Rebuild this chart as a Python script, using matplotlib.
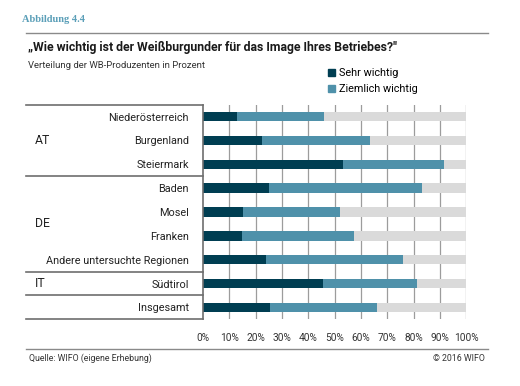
import matplotlib.pyplot as plt
from matplotlib.patches import Patch

regions = ["Niederösterreich", "Burgenland", "Steiermark", "Baden", "Mosel",
           "Franken", "Andere untersuchte Regionen", "Südtirol", "Insgesamt"]
sehr_wichtig = [13.0, 22.3, 53.2, 25.0, 15.2, 14.9, 23.8, 45.7, 25.6]
ziemlich_wichtig = [33.1, 41.2, 38.3, 58.3, 36.9, 42.6, 52.3, 35.6, 40.6]
groups = ["AT", "DE", "IT"]
group_rows = [(0, 2), (3, 6), (7, 7)]
separators = [2.5, 6.5, 7.5]
ticks = list(range(0, 101, 10))
tick_labels = [f"{t}%" for t in ticks]

DARK = "#003e52"
TEAL = "#4f91aa"
GREY = "#dadada"
LINE = "#6e6e6e"
SANS = ["Roboto", "DejaVu Sans"]

W, H = 520, 386


def fx(px):
    return px / W


def fy(py):
    return 1 - py / H


fig = plt.figure(figsize=(W / 100, H / 100), dpi=100)
ax = fig.add_axes([fx(203), fy(319.3), fx(466.3) - fx(203), fy(104.7) - fy(319.3)])

y = list(range(len(regions)))
rest = [100 - a - b for a, b in zip(sehr_wichtig, ziemlich_wichtig)]
left2 = sehr_wichtig
left3 = [a + b for a, b in zip(sehr_wichtig, ziemlich_wichtig)]
h = 0.4
ax.barh(y, sehr_wichtig, height=h, color=DARK, zorder=2)
ax.barh(y, ziemlich_wichtig, left=left2, height=h, color=TEAL, zorder=2)
ax.barh(y, rest, left=left3, height=h, color=GREY, zorder=2)

ax.set_xlim(0, 100)
ax.set_ylim(8.5, -0.5)
for t in ticks[1:]:
    ax.axvline(t, color="#9c9c9c", lw=0.9, zorder=1)

ax.set_xticks(ticks)
ax.set_xticklabels(tick_labels, family=SANS, fontsize=7.3, color="#333333")
ax.tick_params(axis="x", length=0, pad=10)
ax.set_yticks(y)
ax.set_yticklabels(regions, family=SANS, fontsize=7.8, color="#222222")
ax.tick_params(axis="y", length=0, pad=10)
for s in ["top", "right", "bottom"]:
    ax.spines[s].set_visible(False)
ax.spines["left"].set_color(LINE)
ax.spines["left"].set_linewidth(1.2)

left_frac = (26 - 203) / (466.3 - 203)
trans = ax.get_yaxis_transform()
for yy in [-0.5, 8.5] + separators:
    ax.plot([left_frac, 0], [yy, yy], color=LINE, lw=1.2, transform=trans, clip_on=False)

for g, (a, b) in zip(groups, group_rows):
    ax.text(left_frac + 0.035, (a + b) / 2, g, transform=trans, family=SANS,
            fontsize=8.8, va="center", ha="left", color="#222222")

handles = [Patch(color=DARK, label="Sehr wichtig"), Patch(color=TEAL, label="Ziemlich wichtig")]
fig.legend(handles=handles, loc="upper left", bbox_to_anchor=(fx(324), fy(64)),
           frameon=False, prop={"family": SANS, "size": 7.8},
           handlelength=0.65, handleheight=0.65, handletextpad=0.35, labelspacing=0.55,
           borderaxespad=0)

fig.text(fx(22), fy(20), "Abbildung 4.4", family=["Liberation Serif", "DejaVu Serif"],
         weight="bold", fontsize=7.5, color="#5b9fb8", va="center")
fig.add_artist(plt.Line2D([fx(26), fx(488)], [fy(32.5), fy(32.5)], color="#8a8a8a", lw=1))
fig.text(fx(28), fy(47), "\u201eWie wichtig ist der Weißburgunder für das Image Ihres Betriebes?\"",
         family=SANS, weight="bold", fontsize=8.8, color="#1a1a1a", va="center")
fig.text(fx(28), fy(66), "Verteilung der WB-Produzenten in Prozent", family=SANS,
         fontsize=6.8, color="#333333", va="center")
fig.add_artist(plt.Line2D([fx(26), fx(488)], [fy(349), fy(349)], color="#8a8a8a", lw=1))
fig.text(fx(29), fy(358.5), "Quelle: WIFO (eigene Erhebung)", family=SANS,
         fontsize=6.3, color="#333333", va="center")
fig.text(fx(485), fy(358.5), "© 2016 WIFO", family=SANS, fontsize=6.3,
         color="#333333", va="center", ha="right")

fig.savefig("out.png", dpi=100)
